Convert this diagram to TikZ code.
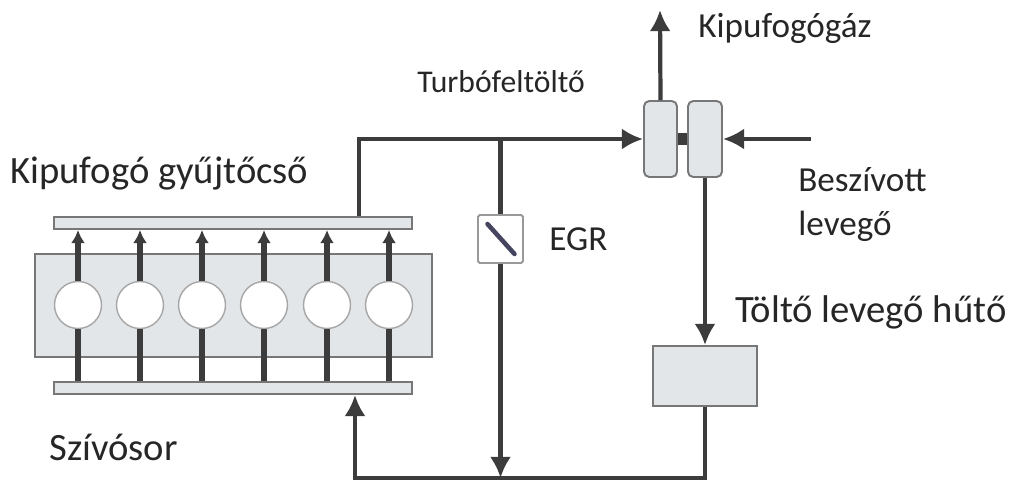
\documentclass[tikz,border=0pt]{standalone}
\usepackage{fontspec}
\setmainfont{Carlito}
\usepackage{tikz}
\usetikzlibrary{calc, arrows.meta}
\definecolor{partfill}{HTML}{E3E6E9}
\definecolor{partline}{HTML}{777777}
\definecolor{pipeline}{HTML}{3C3C3C}
\definecolor{flap}{HTML}{45455F}
\tikzset{
    part/.style={draw=partline, fill=partfill, line width=1.1pt, inner sep=0pt},
    pipe/.style={draw=pipeline, line width=2.4pt},
    stem/.style={draw=pipeline, line width=3.2pt},
    bigarrow/.style={pipe, -{Latex[length=12pt, width=12pt]}},
    smallarrow/.style={stem, -{Latex[length=7.5pt, width=8pt]}},
    label/.style={anchor=base west, inner sep=0pt, text=black!85}
}

\begin{document}
\begin{tikzpicture}[x=0.02cm, y=-0.02cm]
    \useasboundingbox (0,0) rectangle (1014,481);

    \node[part, minimum width=7.94cm, minimum height=2.06cm] (block) at (233.5,305.5) {};
    \node[part, minimum width=7.16cm, minimum height=0.24cm] (exhaustman) at (233,223) {};
    \node[part, minimum width=7.16cm, minimum height=0.24cm] (intakeman) at (233,388) {};

    \foreach \i/\xc in {1/78, 2/140, 3/202, 4/264, 5/327, 6/389} {
        \node[circle, draw=black!35, fill=white, line width=0.8pt, minimum size=0.94cm, inner sep=0pt] (cyl\i) at (\xc,305) {};
        \draw[smallarrow] (cyl\i.north) -- (cyl\i.north |- exhaustman.south);
        \draw[stem] (cyl\i.south) -- (cyl\i.south |- intakeman.north);
    }

    \node[part, rounded corners=3pt, minimum width=0.66cm, minimum height=1.52cm] (turbine) at (660.5,139) {};
    \node[part, rounded corners=3pt, minimum width=0.68cm, minimum height=1.52cm] (compressor) at (705,139) {};
    \node[part, minimum width=2.08cm, minimum height=1.2cm] (cooler) at (705,376) {};
    \node[part, draw=black!40, fill=white, rounded corners=1pt, minimum width=0.9cm, minimum height=0.96cm] (egrbox) at (500.5,239) {};

    \coordinate (exhaustbend) at (359,139);
    \coordinate (egrtee) at (500.5,139);
    \coordinate (returnbend) at (355,478);
    \coordinate (exhaustend) at (660,10);
    \coordinate (airstart) at (811,139);

    \draw[draw=pipeline, line width=6.5pt] (turbine.east) -- (compressor.west);
    \draw[bigarrow] (exhaustbend |- exhaustman.north) -- (exhaustbend) -- (turbine.west);
    \draw[pipe] (egrtee) -- (egrbox.north);
    \draw[bigarrow] (egrbox.south) -- (egrbox.south |- returnbend);
    \draw[bigarrow] (turbine.north) -- (exhaustend);
    \draw[bigarrow] (airstart) -- (compressor.east);
    \draw[bigarrow] (compressor.south) -- (cooler.north);
    \draw[bigarrow] (cooler.south) |- (returnbend) -- (returnbend |- intakeman.south);
    \draw[draw=flap, line width=2.6pt, line cap=round] ($(egrbox.center)+(-13,-15)$) -- ($(egrbox.center)+(14,15)$);

    \node[label, font=\fontsize{20}{24}\selectfont] (kipufogogaz) at (698,37) {Kipufogógáz};
    \node[label, font=\fontsize{18}{22}\selectfont] (turbo) at (417,92) {Turbófeltöltő};
    \node[label, font=\fontsize{22}{26}\selectfont] (gyujtocso) at (10,183) {Kipufogó gyűjtőcső};
    \node[label, font=\fontsize{22}{26}\selectfont] (szivosor) at (49,460) {Szívósor};
    \node[label, font=\fontsize{20}{24}\selectfont] (egr) at (549,250) {EGR};
    \node[label, font=\fontsize{20}{24}\selectfont] (beszivott) at (798,191) {Beszívott};
    \node[label, font=\fontsize{20}{24}\selectfont] (levego) at (798,235) {levegő};
    \node[label, font=\fontsize{22}{26}\selectfont] (hutolabel) at (735,322) {Töltő levegő hűtő};
\end{tikzpicture}
\end{document}
